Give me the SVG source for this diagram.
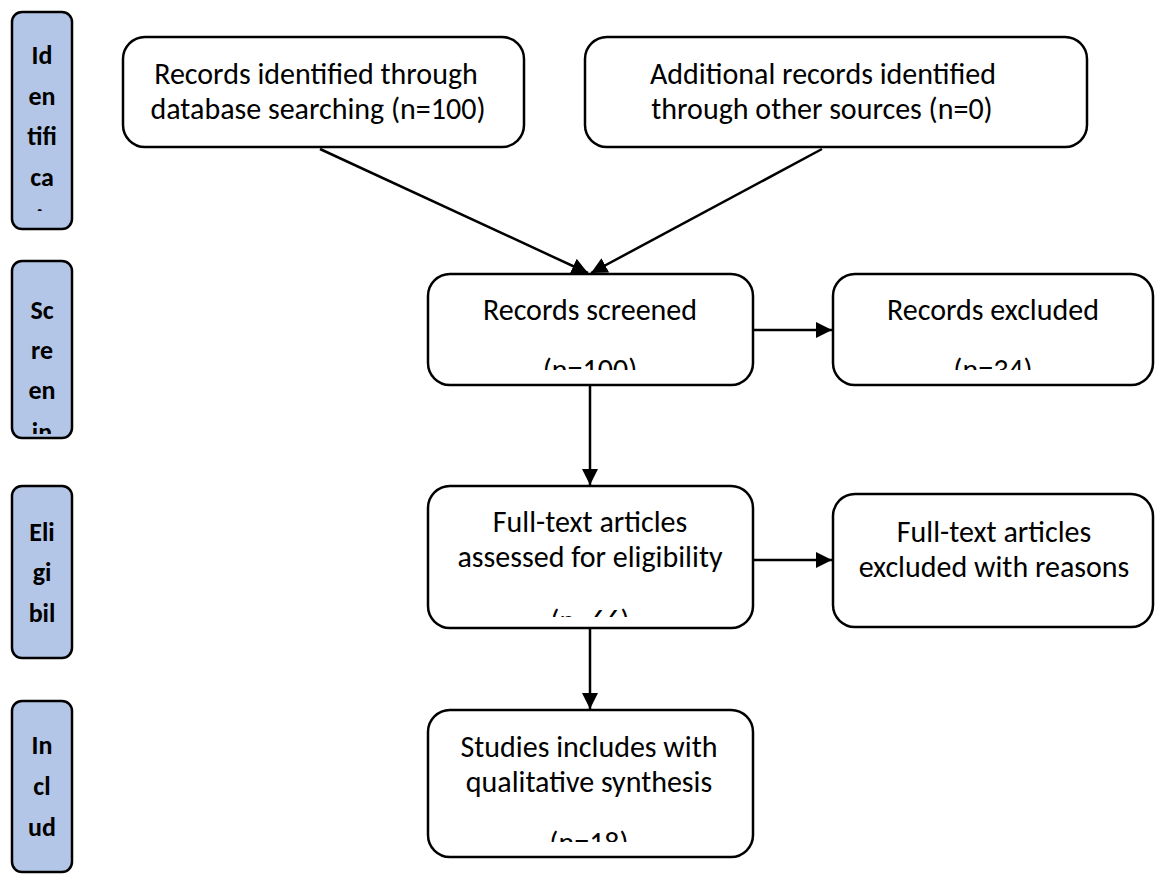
<svg xmlns="http://www.w3.org/2000/svg" width="1155" height="874" viewBox="0 0 1155 874">
<style>
.box{fill:#fff;stroke:#000;stroke-width:2.5}
.side{fill:#b4c6e7;stroke:#000;stroke-width:2.5}
.t{font-family:Carlito,Lato,"Liberation Sans",sans-serif;font-size:30px;fill:#000;text-anchor:middle}
.s{font-family:Carlito,Lato,"Liberation Sans",sans-serif;font-size:26px;font-weight:bold;fill:#000;text-anchor:middle}
.c{stroke:#000;stroke-width:2.5;fill:none}
</style>
<defs>
<marker id="ah" viewBox="0 0 10 10" refX="10" refY="5" markerWidth="6.5" markerHeight="6.5" markerUnits="strokeWidth" orient="auto">
<path d="M0,0 L10,5 L0,10 Z" fill="#000"/>
</marker>
<clipPath id="cs1"><rect x="0" y="0" width="90" height="211"/></clipPath>
<clipPath id="cs2"><rect x="0" y="250" width="90" height="184"/></clipPath>
<clipPath id="cC"><rect x="420" y="270" width="340" height="100"/></clipPath>
<clipPath id="cD"><rect x="825" y="270" width="330" height="100"/></clipPath>
<clipPath id="cE"><rect x="420" y="480" width="340" height="137"/></clipPath>
<clipPath id="cG"><rect x="420" y="700" width="340" height="142"/></clipPath>
</defs>

<g id="side-identification">
<rect class="side" x="12" y="12" width="60" height="217" rx="10"/>
<text class="s" clip-path="url(#cs1)"><tspan x="42" y="64">Id</tspan><tspan x="42" y="105">en</tspan><tspan x="42" y="145">tifi</tspan><tspan x="42" y="186">ca</tspan><tspan x="42" y="228">tio</tspan></text>
</g>
<g id="side-screening">
<rect class="side" x="12" y="261" width="60" height="177" rx="10"/>
<text class="s" clip-path="url(#cs2)"><tspan x="42" y="319">Sc</tspan><tspan x="42" y="359">re</tspan><tspan x="42" y="399">en</tspan><tspan x="42" y="441">in</tspan></text>
</g>
<g id="side-eligibility">
<rect class="side" x="12" y="486" width="60" height="172" rx="10"/>
<text class="s"><tspan x="42" y="541">Eli</tspan><tspan x="42" y="581">gi</tspan><tspan x="42" y="622">bil</tspan></text>
</g>
<g id="side-included">
<rect class="side" x="12" y="701" width="60" height="171" rx="10"/>
<text class="s"><tspan x="42" y="754">In</tspan><tspan x="42" y="795">cl</tspan><tspan x="42" y="836">ud</tspan></text>
</g>

<g id="connectors">
<line class="c" x1="320" y1="149" x2="588" y2="273" marker-end="url(#ah)"/>
<line class="c" x1="822" y1="149" x2="591" y2="273" marker-end="url(#ah)"/>
<line class="c" x1="753" y1="330" x2="832" y2="330" marker-end="url(#ah)"/>
<line class="c" x1="590" y1="385" x2="590" y2="485" marker-end="url(#ah)"/>
<line class="c" x1="753" y1="560" x2="832" y2="560" marker-end="url(#ah)"/>
<line class="c" x1="590" y1="628" x2="590" y2="709" marker-end="url(#ah)"/>
</g>

<g id="node-database">
<rect class="box" x="123" y="37" width="401" height="110" rx="22"/>
<text class="t"><tspan x="316" y="84">Records identified through</tspan><tspan x="318" y="119">database searching (n=100)</tspan></text>
</g>
<g id="node-other">
<rect class="box" x="585" y="37" width="502" height="110" rx="22"/>
<text class="t"><tspan x="823" y="84">Additional records identified</tspan><tspan x="822" y="119">through other sources (n=0)</tspan></text>
</g>
<g id="node-screened">
<rect class="box" x="428" y="274" width="325" height="111" rx="22"/>
<text class="t" clip-path="url(#cC)"><tspan x="590" y="320">Records screened</tspan><tspan x="590" y="380">(n=100)</tspan></text>
</g>
<g id="node-excluded">
<rect class="box" x="833" y="274" width="320" height="111" rx="22"/>
<text class="t" clip-path="url(#cD)"><tspan x="993" y="320">Records excluded</tspan><tspan x="993" y="380">(n=34)</tspan></text>
</g>
<g id="node-fulltext">
<rect class="box" x="428" y="486" width="325" height="142" rx="22"/>
<text class="t" clip-path="url(#cE)"><tspan x="590" y="532">Full-text articles</tspan><tspan x="590" y="567">assessed for eligibility</tspan><tspan x="590" y="631">(n=66)</tspan></text>
</g>
<g id="node-fulltext-excluded">
<rect class="box" x="833" y="494" width="320" height="133" rx="22"/>
<text class="t"><tspan x="994" y="542">Full-text articles</tspan><tspan x="994" y="577">excluded with reasons</tspan></text>
</g>
<g id="node-included">
<rect class="box" x="428" y="710" width="325" height="147" rx="22"/>
<text class="t" clip-path="url(#cG)"><tspan x="589" y="757">Studies includes with</tspan><tspan x="589" y="792">qualitative synthesis</tspan><tspan x="589" y="853">(n=18)</tspan></text>
</g>
</svg>
